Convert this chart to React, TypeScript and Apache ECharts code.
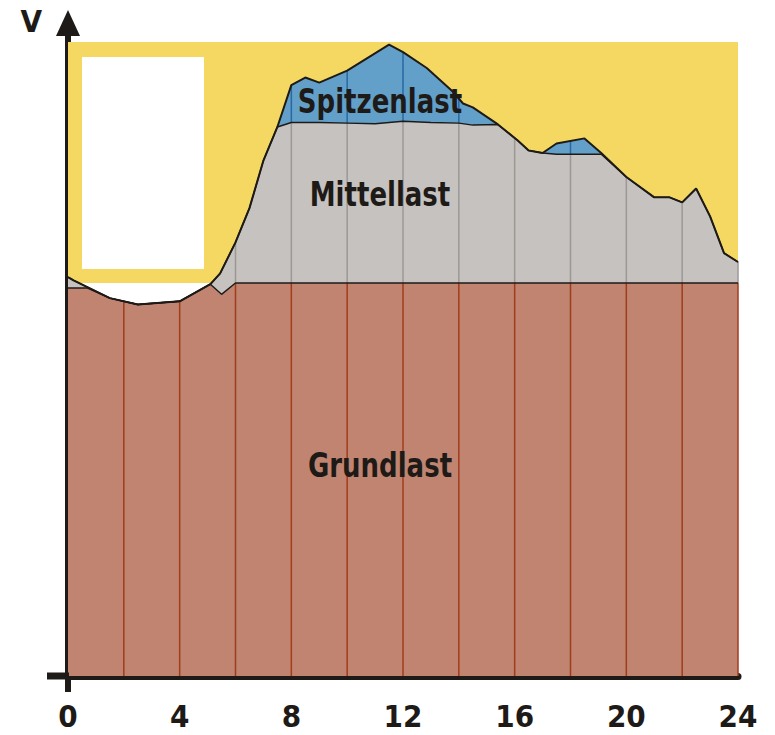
import React, { useEffect, useRef } from "react";
import * as echarts from "echarts";

// Hours of the day (x) and load values (arbitrary units, 100 = top of the yellow band)
const totalLoad: [number, number][] = [
  [0, 62.9], [0.2, 62.4], [1.5, 59.6], [2.5, 58.6], [4, 59.1], [5.1, 61.8], [5.45, 63.5],
  [6, 68.4], [6.5, 73.8], [7, 81.3], [7.5, 86.6], [8, 93.2], [8.5, 94.4], [9, 93.6],
  [10, 95.5], [11.5, 99.6], [12, 98.4], [12.85, 95.9], [13.8, 92.1], [14.15, 90.3],
  [14.5, 89.7], [15.4, 87.0], [16.1, 84.5], [16.5, 82.9], [17, 82.5], [17.5, 84.0],
  [18.5, 84.8], [19.1, 82.5], [20, 78.7], [21, 75.5], [21.55, 75.5], [22, 74.7],
  [22.5, 76.9], [23, 72.5], [23.5, 66.7], [24, 65.3],
];

const mittelLoad: [number, number][] = [
  [0, 62.9], [0.2, 62.4], [1.5, 59.6], [2.5, 58.6], [4, 59.1], [5.1, 61.8], [5.45, 63.5],
  [6, 68.4], [6.5, 73.8], [7, 81.3], [7.5, 86.6], [8, 87.3], [9, 87.3], [10, 87.2],
  [11, 87.1], [12, 87.5], [13, 87.3], [14, 87.2], [14.5, 86.9], [15.4, 87.0], [16.1, 84.5],
  [16.5, 82.9], [17, 82.5], [17.5, 82.3], [18.5, 82.3], [19.1, 82.3], [20, 78.7],
  [21, 75.5], [21.55, 75.5], [22, 74.7], [22.5, 76.9], [23, 72.5], [23.5, 66.7], [24, 65.3],
];

const grundLoad: [number, number][] = [
  [0, 61.2], [0.7, 61.2], [1.5, 59.6], [2.5, 58.6], [4, 59.1], [5.1, 61.8], [5.5, 60.2],
  [6, 62], [24, 62],
];

const bandBottom = 62;
const bandTop = 100;
const gridHours = [2, 4, 6, 8, 10, 12, 14, 16, 18, 20, 22, 24];
const xTicks = { min: 0, max: 24, interval: 4 };
const areaLabels = ["Spitzenlast", "Mittellast", "Grundlast"];

const COLORS = {
  yellow: "#f4d862",
  blue: "#62a0c9",
  gray: "#c6c2bf",
  brown: "#c18470",
  ink: "#1e1a17",
  gridBrown: "#a03d1c",
  gridGray: "#9b9896",
  gridBlue: "#2a68a3",
};

const FONT = '"DejaVu Sans Condensed", "DejaVu Sans", sans-serif';

function interp(curve: [number, number][], x: number): number {
  for (let i = 0; i < curve.length - 1; i++) {
    const [x0, y0] = curve[i];
    const [x1, y1] = curve[i + 1];
    if (x >= x0 && x <= x1) {
      return x1 === x0 ? y0 : y0 + ((x - x0) / (x1 - x0)) * (y1 - y0);
    }
  }
  return curve[curve.length - 1][1];
}

export default function App() {
  const ref = useRef<HTMLDivElement>(null);

  useEffect(() => {
    if (!ref.current) return;
    const chart = echarts.init(ref.current, null, { renderer: "svg" });

    const gridData = gridHours.map((h) => [
      h,
      interp(grundLoad, h),
      interp(mittelLoad, h),
      interp(totalLoad, h),
    ]);

    const areaSeries = (name: string, data: [number, number][], color: string, z: number) => ({
      name,
      type: "line",
      data,
      z,
      symbol: "none",
      showSymbol: false,
      silent: true,
      lineStyle: { width: 0, opacity: 0 },
      areaStyle: { color, opacity: 1 },
    });

    const outline = (name: string, data: [number, number][], width: number) => ({
      name,
      type: "line",
      data,
      z: 7,
      symbol: "none",
      showSymbol: false,
      silent: true,
      lineStyle: { width, color: COLORS.ink },
    });

    const label = (text: string, x: number, y: number) => ({
      type: "text",
      z: 10,
      x,
      y,
      scaleX: 0.85,
      style: {
        text,
        fill: COLORS.ink,
        font: `bold 34px ${FONT}`,
        align: "center",
        verticalAlign: "middle",
      },
    });

    chart.setOption({
      animation: false,
      grid: { left: 68, right: 37, top: 23, bottom: 59 },
      xAxis: {
        type: "value",
        min: xTicks.min,
        max: xTicks.max,
        interval: xTicks.interval,
        axisLine: { show: true, onZero: false, lineStyle: { color: COLORS.ink, width: 7 } },
        axisTick: { show: false },
        splitLine: { show: false },
        axisLabel: {
          color: COLORS.ink,
          fontFamily: FONT,
          fontWeight: "bold",
          fontSize: 31,
          margin: 24,
        },
      },
      yAxis: {
        type: "value",
        min: 0,
        max: 103,
        name: "V",
        nameLocation: "end",
        nameGap: 2,
        nameTextStyle: {
          color: COLORS.ink,
          fontFamily: FONT,
          fontWeight: "bold",
          fontSize: 31,
          align: "right",
          verticalAlign: "middle",
          padding: [0, 26, 0, 0],
        },
        axisLine: {
          show: true,
          onZero: false,
          symbol: ["none", "triangle"],
          symbolSize: [24, 26],
          lineStyle: { color: COLORS.ink, width: 6 },
        },
        axisTick: { show: false },
        axisLabel: { show: false },
        splitLine: { show: false },
      },
      series: [
        {
          name: "Band",
          type: "line",
          data: [
            [xTicks.min, bandTop],
            [xTicks.max, bandTop],
          ],
          symbol: "none",
          silent: true,
          lineStyle: { opacity: 0, width: 0 },
          markArea: {
            silent: true,
            z: 1,
            itemStyle: { color: COLORS.yellow, opacity: 1, borderWidth: 0 },
            data: [[{ xAxis: xTicks.min, yAxis: bandBottom }, { xAxis: xTicks.max, yAxis: bandTop }]],
          },
        },
        areaSeries("Spitzenlast", totalLoad, COLORS.blue, 2),
        areaSeries("Mittellast", mittelLoad, COLORS.gray, 3),
        areaSeries("Grundlast", grundLoad, COLORS.brown, 4),
        {
          name: "Stundenlinien",
          type: "custom",
          z: 5,
          silent: true,
          data: gridData,
          renderItem: (params: any, api: any) => {
            const h = api.value(0);
            const g = api.value(1);
            const m = api.value(2);
            const t = api.value(3);
            const p0 = api.coord([h, 0]);
            const pg = api.coord([h, g]);
            const pm = api.coord([h, m]);
            const pt = api.coord([h, t]);
            const seg = (a: number[], b: number[], color: string) => ({
              type: "line",
              shape: { x1: a[0], y1: a[1], x2: b[0], y2: b[1] },
              style: { stroke: color, lineWidth: 1.5 },
            });
            const children: any[] = [seg(p0, pg, COLORS.gridBrown)];
            if (m > g) children.push(seg(pg, pm, COLORS.gridGray));
            if (t > m) children.push(seg(pm, pt, COLORS.gridBlue));
            return { type: "group", children };
          },
        },
        outline("Grundlast Linie", grundLoad, 1.4),
        outline("Mittellast Linie", mittelLoad, 1.4),
        outline("Gesamtlast Linie", totalLoad, 2),
      ],
      graphic: [
        {
          type: "rect",
          z: 10,
          shape: { x: 82, y: 57, width: 122, height: 212 },
          style: { fill: "#ffffff" },
        },
        {
          type: "rect",
          z: 10,
          shape: { x: 47, y: 672.5, width: 22, height: 7 },
          style: { fill: COLORS.ink },
        },
        {
          type: "rect",
          z: 10,
          shape: { x: 65, y: 676, width: 6, height: 16 },
          style: { fill: COLORS.ink },
        },
        label(areaLabels[0], 380, 101),
        label(areaLabels[1], 380, 194),
        label(areaLabels[2], 380, 465),
      ],
    });

    return () => chart.dispose();
  }, []);

  return <div ref={ref} style={{ width: 775, height: 735, position: "absolute", left: 0, top: 0 }} />;
}
